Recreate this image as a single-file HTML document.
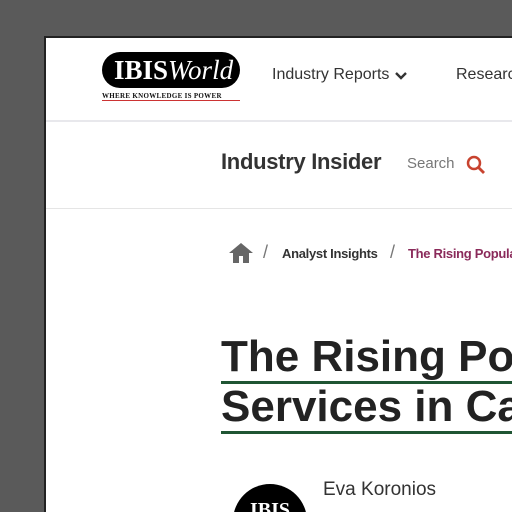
<!DOCTYPE html>
<html><head><meta charset="utf-8"><style>
*{margin:0;padding:0;box-sizing:border-box}
html,body{width:512px;height:512px;overflow:hidden}
body{background:#5a5a5a;font-family:"Liberation Sans",sans-serif;position:relative}
#page{position:absolute;left:44px;top:36px;width:468px;height:476px;background:#fff;border-left:2px solid #222;border-top:2px solid #222;overflow:hidden}
.a{position:absolute;white-space:nowrap}
</style></head><body>
<div id="page">
<div class="a" style="left:56px;top:14px;width:138px;height:36px;background:#000;border-radius:18px;color:#fff;font-family:'Liberation Serif',serif;font-size:27px;line-height:36px;padding-left:12px"><b>IBIS</b><i>World</i></div>
<div class="a" style="left:56px;top:54px;width:138px;font-family:'Liberation Serif',serif;font-size:7px;font-weight:bold;letter-spacing:0.3px;border-bottom:1px solid #c33;color:#111">WHERE KNOWLEDGE IS POWER</div>
<div class="a" style="left:226px;top:28px;font-size:16px;color:#333">Industry Reports</div>
<svg class="a" style="left:348px;top:32px" width="14" height="12"><path d="M2 3 L7 8 L12 3" fill="none" stroke="#333" stroke-width="2.4"/></svg>
<div class="a" style="left:410px;top:28px;font-size:16px;color:#333">Research</div>
<div class="a" style="left:0;top:82px;width:480px;height:2px;background:#e8e8ec"></div>
<div class="a" style="left:175px;top:111px;font-size:22px;color:#333;font-weight:bold;letter-spacing:-0.3px">Industry Insider</div>
<div class="a" style="left:361px;top:117px;font-size:15px;color:#777">Search</div>
<svg class="a" style="left:419px;top:116px" width="22" height="22"><circle cx="9" cy="9" r="6" fill="none" stroke="#c8432f" stroke-width="2.5"/><line x1="13" y1="13" x2="19" y2="19" stroke="#c8432f" stroke-width="2.8"/></svg>
<div class="a" style="left:0;top:170px;width:480px;height:1px;background:#e5e5e5"></div>
<svg class="a" style="left:181px;top:204px" width="28" height="22"><path d="M2 11 L14 1 L26 11 L22 11 L22 21 L16 21 L16 14 L12 14 L12 21 L6 21 L6 11Z" fill="#666"/></svg>
<div class="a" style="left:217px;top:204px;font-size:18px;color:#777">/</div>
<div class="a" style="left:236px;top:208px;font-size:13px;color:#333;font-weight:bold;letter-spacing:-0.3px">Analyst Insights</div>
<div class="a" style="left:344px;top:204px;font-size:18px;color:#777">/</div>
<div class="a" style="left:362px;top:208px;font-size:13px;color:#8a2a5a;font-weight:bold;letter-spacing:-0.3px">The Rising Popularity</div>
<div class="a" style="left:175px;top:294px;font-size:44px;font-weight:bold;color:#222;line-height:50px;letter-spacing:0px">
<span style="border-bottom:3px solid #1f5533">The Rising Popularity of</span><br><span style="border-bottom:3px solid #1f5533">Services in Canada</span></div>
<svg class="a" style="left:187px;top:446px" width="74" height="28"><circle cx="37" cy="37" r="37" fill="#000"/><text x="37" y="32" text-anchor="middle" fill="#fff" font-family="Liberation Serif, serif" font-weight="bold" font-size="20">IBIS</text></svg>
<div class="a" style="left:277px;top:441px;font-size:19px;color:#333">Eva Koronios</div>
</div>
</body></html>
